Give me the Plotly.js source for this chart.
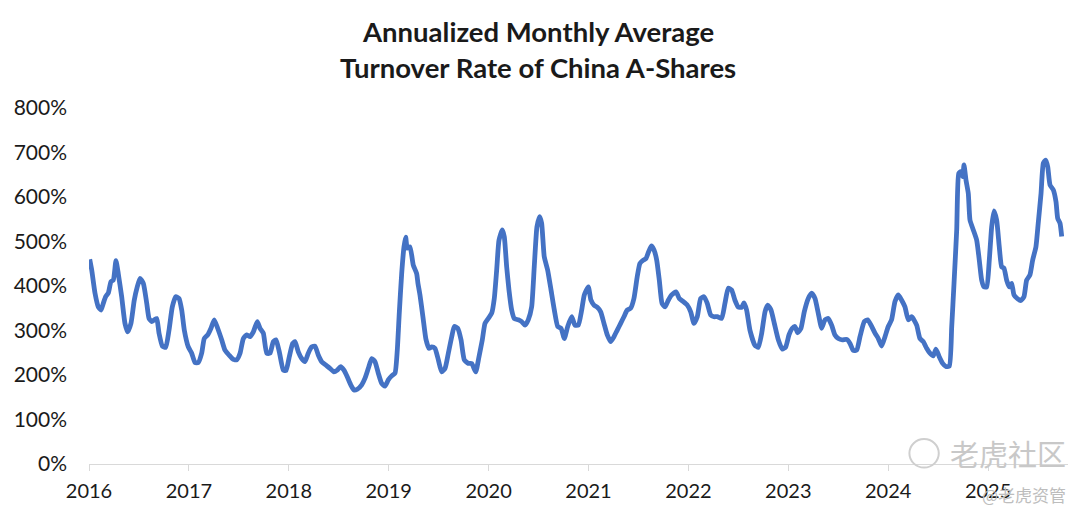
<!DOCTYPE html>
<html>
<head>
<meta charset="utf-8">
<script src="https://cdn.plot.ly/plotly-3.0.1.min.js"></script>
<style>html,body{margin:0;padding:0;background:#fff;}#chart{width:1080px;height:520px;}</style>
</head>
<body>
<div id="chart"></div>
<script>
// Time in decimal years
const years = [
2016.007,2016.027,2016.060,2016.093,2016.120,2016.143,2016.167,2016.193,2016.220,2016.243,
2016.270,2016.293,2016.327,2016.360,2016.387,2016.420,2016.453,2016.483,2016.511,2016.544,
2016.578,2016.601,2016.628,2016.654,2016.678,2016.701,2016.734,2016.768,2016.801,2016.834,
2016.868,2016.901,2016.928,2016.954,2016.994,2017.028,2017.061,2017.094,2017.128,2017.154,
2017.188,2017.221,2017.254,2017.288,2017.328,2017.361,2017.401,2017.444,2017.478,2017.512,
2017.545,2017.578,2017.612,2017.645,2017.685,2017.712,2017.745,2017.779,2017.812,2017.845,
2017.872,2017.905,2017.945,2017.972,2018.005,2018.039,2018.062,2018.095,2018.129,2018.162,
2018.195,2018.229,2018.262,2018.295,2018.329,2018.372,2018.412,2018.452,2018.485,2018.519,
2018.552,2018.585,2018.620,2018.653,2018.686,2018.730,2018.763,2018.796,2018.830,2018.863,
2018.896,2018.930,2018.963,2018.996,2019.030,2019.063,2019.086,2019.106,2019.130,2019.153,
2019.170,2019.186,2019.213,2019.246,2019.280,2019.293,2019.313,2019.343,2019.373,2019.403,
2019.430,2019.463,2019.497,2019.530,2019.564,2019.597,2019.631,2019.657,2019.691,2019.724,
2019.757,2019.797,2019.831,2019.871,2019.904,2019.937,2019.964,2019.997,2020.031,2020.057,
2020.081,2020.104,2020.137,2020.157,2020.181,2020.204,2020.231,2020.257,2020.297,2020.331,
2020.364,2020.397,2020.431,2020.457,2020.484,2020.511,2020.531,2020.557,2020.591,2020.625,
2020.658,2020.692,2020.725,2020.758,2020.792,2020.832,2020.865,2020.898,2020.932,2020.958,
2020.998,2021.025,2021.055,2021.088,2021.122,2021.155,2021.188,2021.222,2021.255,2021.288,
2021.322,2021.355,2021.388,2021.422,2021.455,2021.488,2021.515,2021.549,2021.576,2021.602,
2021.629,2021.656,2021.683,2021.709,2021.736,2021.766,2021.799,2021.833,2021.876,2021.909,
2021.949,2021.989,2022.023,2022.056,2022.089,2022.123,2022.156,2022.189,2022.223,2022.256,
2022.289,2022.333,2022.366,2022.399,2022.433,2022.466,2022.499,2022.533,2022.556,2022.583,
2022.616,2022.666,2022.700,2022.734,2022.767,2022.794,2022.827,2022.860,2022.900,2022.940,
2022.974,2023.007,2023.040,2023.067,2023.094,2023.127,2023.160,2023.200,2023.234,2023.267,
2023.300,2023.334,2023.367,2023.400,2023.434,2023.467,2023.501,2023.541,2023.585,2023.618,
2023.651,2023.685,2023.718,2023.761,2023.795,2023.828,2023.868,2023.901,2023.935,2023.968,
2024.001,2024.034,2024.068,2024.101,2024.135,2024.168,2024.201,2024.235,2024.285,2024.318,
2024.351,2024.385,2024.418,2024.451,2024.478,2024.511,2024.545,2024.578,2024.612,2024.636,
2024.659,2024.686,2024.706,2024.726,2024.746,2024.759,2024.779,2024.802,2024.819,2024.852,
2024.886,2024.912,2024.936,2024.959,2024.986,2025.012,2025.036,2025.059,2025.086,2025.112,
2025.136,2025.159,2025.186,2025.212,2025.236,2025.259,2025.292,2025.326,2025.359,2025.386,
2025.419,2025.446,2025.479,2025.502,2025.530,2025.553,2025.577,2025.597,2025.620,2025.653,
2025.680,2025.697,2025.720,2025.737
];
// Annualized monthly average turnover rate, %
const turnover = [
460,436,384,353,346,361,376,384,410,413,
457,428,376,316,297,316,368,398,417,406,
361,327,320,324,327,294,265,262,301,353,
376,372,346,301,263,249,228,228,249,282,
290,305,324,305,279,256,245,235,234,249,
282,290,286,297,320,305,294,249,249,275,
279,252,211,210,241,271,275,252,237,230,
249,263,265,245,230,222,215,207,211,219,
211,196,178,166,168,178,193,215,237,230,
204,181,175,189,198,204,256,339,428,488,
510,485,488,447,428,406,380,330,280,260,
263,260,234,207,215,249,286,309,305,279,
234,226,226,207,241,279,316,327,339,372,
436,503,526,511,443,391,346,327,324,320,
312,324,353,443,533,556,541,466,436,391,
346,309,305,282,309,331,312,312,346,380,
398,368,357,352,342,316,290,275,286,301,
316,331,346,350,372,421,451,458,462,477,
490,481,458,413,361,353,368,380,387,372,
365,357,342,316,331,372,376,361,335,331,
331,327,361,395,391,368,353,352,362,346,
301,267,262,294,342,357,346,316,279,258,
263,290,305,309,295,305,342,372,384,372,
339,305,324,327,312,290,282,279,280,271,
255,256,286,320,324,312,294,282,265,286,
309,324,365,380,368,353,324,331,312,282,
275,260,249,243,258,241,226,219,220,309,
406,526,653,657,646,672,638,608,548,526,
503,458,413,398,398,458,533,569,548,488,
443,440,413,398,406,380,372,367,376,413,
425,458,488,541,608,676,683,668,627,616,
589,552,541,511
];
const yearTicks = [2016,2017,2018,2019,2020,2021,2022,2023,2024,2025];
const valueTicks = [0,100,200,300,400,500,600,700,800];
const titleLines = ["Annualized Monthly Average", "Turnover Rate of China A-Shares"];
const watermark = "老虎社区";
const credit = "@老虎资管";

const FONT = "Lato, 'Open Sans', sans-serif";

const trace = {
  x: years, y: turnover, type: 'scatter', mode: 'lines',
  line: {color: '#4472C4', width: 4.8, shape: 'spline', smoothing: 0.5},
  hoverinfo: 'skip'
};

const layout = {
  width: 1080, height: 520,
  margin: {l: 89, r: 12, t: 108, b: 56},
  paper_bgcolor: '#ffffff', plot_bgcolor: '#ffffff',
  showlegend: false,
  xaxis: {
    type: 'linear', range: [2016, 2025.8],
    tickvals: yearTicks, ticktext: yearTicks.map(String),
    showgrid: false, zeroline: false,
    showline: true, linecolor: '#d9d9d9', linewidth: 1,
    ticks: 'outside', ticklen: 6, tickcolor: '#d9d9d9',
    ticklabelstandoff: 3,
    tickfont: {family: FONT, size: 20, color: '#1a1a1a'}
  },
  yaxis: {
    range: [0, 800], tickvals: valueTicks, ticktext: valueTicks.map(v => v + '%'),
    showgrid: false, zeroline: false, showline: false, ticks: '',
    ticklabelstandoff: 21,
    tickfont: {family: FONT, size: 21, color: '#1a1a1a'}
  },
  annotations: [
    {text: '<b>' + titleLines[0] + '</b>', xref: 'paper', yref: 'paper', x: 0.459, y: 1.2135,
     xanchor: 'center', yanchor: 'middle', showarrow: false,
     font: {family: FONT, size: 27.5, color: '#1a1a1a'}},
    {text: '<b>' + titleLines[1] + '</b>', xref: 'paper', yref: 'paper', x: 0.459, y: 1.115,
     xanchor: 'center', yanchor: 'middle', showarrow: false,
     font: {family: FONT, size: 27.5, color: '#1a1a1a'}},
    {text: watermark, xref: 'paper', yref: 'paper', x: 1.0, y: 0.03, xanchor: 'right', yanchor: 'middle',
     showarrow: false, font: {family: "'Noto Sans CJK SC'", size: 29, color: '#c8c8c8'}},
    {text: credit, xref: 'paper', yref: 'paper', x: 1.0, y: -0.085, xanchor: 'right', yanchor: 'middle',
     showarrow: false, font: {family: "'Noto Sans CJK SC'", size: 17, color: '#bdbdbd'}}
  ],
  shapes: [
    {type: 'circle', xref: 'paper', yref: 'paper', x0: 0.838, x1: 0.868, y0: -0.01, y1: 0.07,
     line: {color: '#cfcfcf', width: 2}}
  ]
};

Plotly.newPlot('chart', [trace], layout, {staticPlot: true, displayModeBar: false});
</script>
</body>
</html>
